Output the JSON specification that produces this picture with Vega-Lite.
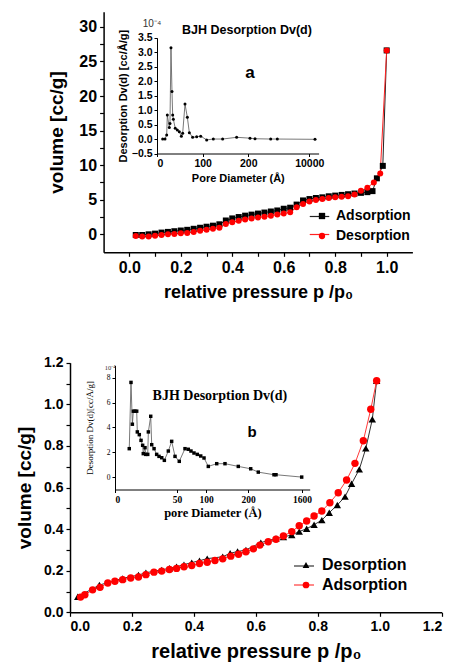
{
  "$schema": "https://vega.github.io/schema/vega-lite/v6.json",
  "width": 455,
  "height": 664,
  "autosize": "none",
  "padding": 0,
  "background": "white",
  "config": {
    "view": {"stroke": null},
    "axis": {"grid": false, "labelOverlap": false, "domainColor": "black", "tickColor": "black", "labelColor": "black", "titleColor": "black", "labelFont": "Liberation Sans", "titleFont": "Liberation Sans", "labelFontWeight": "bold", "titleFontWeight": "bold"},
    "legend": {"labelFont": "Liberation Sans", "labelFontWeight": "bold", "labelColor": "black"}
  },
  "datasets": {
    "isoA": [
      {"p":0.025,"v":-0.1,"s":"Adsorption"},{"p":0.05,"v":-0.1,"s":"Adsorption"},{"p":0.075,"v":0.0,"s":"Adsorption"},{"p":0.1,"v":0.1,"s":"Adsorption"},{"p":0.125,"v":0.25,"s":"Adsorption"},{"p":0.15,"v":0.35,"s":"Adsorption"},{"p":0.175,"v":0.45,"s":"Adsorption"},{"p":0.2,"v":0.55,"s":"Adsorption"},{"p":0.225,"v":0.65,"s":"Adsorption"},{"p":0.25,"v":0.8,"s":"Adsorption"},{"p":0.275,"v":0.95,"s":"Adsorption"},{"p":0.3,"v":1.1,"s":"Adsorption"},{"p":0.325,"v":1.25,"s":"Adsorption"},{"p":0.35,"v":1.45,"s":"Adsorption"},{"p":0.375,"v":2.0,"s":"Adsorption"},{"p":0.4,"v":2.3,"s":"Adsorption"},{"p":0.425,"v":2.5,"s":"Adsorption"},{"p":0.45,"v":2.7,"s":"Adsorption"},{"p":0.475,"v":2.85,"s":"Adsorption"},{"p":0.5,"v":3.0,"s":"Adsorption"},{"p":0.525,"v":3.15,"s":"Adsorption"},{"p":0.55,"v":3.3,"s":"Adsorption"},{"p":0.575,"v":3.45,"s":"Adsorption"},{"p":0.6,"v":3.7,"s":"Adsorption"},{"p":0.625,"v":3.85,"s":"Adsorption"},{"p":0.65,"v":4.3,"s":"Adsorption"},{"p":0.675,"v":4.9,"s":"Adsorption"},{"p":0.7,"v":5.1,"s":"Adsorption"},{"p":0.725,"v":5.25,"s":"Adsorption"},{"p":0.75,"v":5.35,"s":"Adsorption"},{"p":0.775,"v":5.5,"s":"Adsorption"},{"p":0.8,"v":5.6,"s":"Adsorption"},{"p":0.825,"v":5.7,"s":"Adsorption"},{"p":0.85,"v":5.8,"s":"Adsorption"},{"p":0.875,"v":5.9,"s":"Adsorption"},{"p":0.9,"v":6.0,"s":"Adsorption"},{"p":0.925,"v":6.1,"s":"Adsorption"},{"p":0.945,"v":6.25,"s":"Adsorption"},{"p":0.962,"v":8.1,"s":"Adsorption"},{"p":0.985,"v":9.9,"s":"Adsorption"},{"p":1.0,"v":26.6,"s":"Adsorption"},
      {"p":0.025,"v":-0.25,"s":"Desorption"},{"p":0.05,"v":-0.3,"s":"Desorption"},{"p":0.075,"v":-0.3,"s":"Desorption"},{"p":0.1,"v":-0.2,"s":"Desorption"},{"p":0.125,"v":-0.1,"s":"Desorption"},{"p":0.15,"v":0.0,"s":"Desorption"},{"p":0.175,"v":0.05,"s":"Desorption"},{"p":0.2,"v":0.15,"s":"Desorption"},{"p":0.225,"v":0.2,"s":"Desorption"},{"p":0.25,"v":0.35,"s":"Desorption"},{"p":0.275,"v":0.5,"s":"Desorption"},{"p":0.3,"v":0.65,"s":"Desorption"},{"p":0.325,"v":0.8,"s":"Desorption"},{"p":0.35,"v":0.95,"s":"Desorption"},{"p":0.375,"v":1.5,"s":"Desorption"},{"p":0.4,"v":1.75,"s":"Desorption"},{"p":0.425,"v":1.95,"s":"Desorption"},{"p":0.45,"v":2.15,"s":"Desorption"},{"p":0.475,"v":2.3,"s":"Desorption"},{"p":0.5,"v":2.45,"s":"Desorption"},{"p":0.525,"v":2.55,"s":"Desorption"},{"p":0.55,"v":2.7,"s":"Desorption"},{"p":0.575,"v":2.85,"s":"Desorption"},{"p":0.6,"v":3.0,"s":"Desorption"},{"p":0.625,"v":3.2,"s":"Desorption"},{"p":0.65,"v":3.9,"s":"Desorption"},{"p":0.675,"v":4.4,"s":"Desorption"},{"p":0.7,"v":4.75,"s":"Desorption"},{"p":0.725,"v":4.95,"s":"Desorption"},{"p":0.75,"v":5.1,"s":"Desorption"},{"p":0.775,"v":5.25,"s":"Desorption"},{"p":0.8,"v":5.35,"s":"Desorption"},{"p":0.825,"v":5.45,"s":"Desorption"},{"p":0.85,"v":5.5,"s":"Desorption"},{"p":0.875,"v":5.75,"s":"Desorption"},{"p":0.9,"v":6.3,"s":"Desorption"},{"p":0.925,"v":6.75,"s":"Desorption"},{"p":0.95,"v":7.5,"s":"Desorption"},{"p":0.975,"v":8.8,"s":"Desorption"},{"p":1.0,"v":26.6,"s":"Desorption"}
    ],
    "isoB": [
      {"p":0.025,"v":0.075,"s":"Desorption"},{"p":0.095,"v":0.131,"s":"Desorption"},{"p":0.17,"v":0.163,"s":"Desorption"},{"p":0.221,"v":0.179,"s":"Desorption"},{"p":0.245,"v":0.19,"s":"Desorption"},{"p":0.296,"v":0.204,"s":"Desorption"},{"p":0.321,"v":0.212,"s":"Desorption"},{"p":0.344,"v":0.219,"s":"Desorption"},{"p":0.368,"v":0.229,"s":"Desorption"},{"p":0.393,"v":0.239,"s":"Desorption"},{"p":0.418,"v":0.248,"s":"Desorption"},{"p":0.443,"v":0.258,"s":"Desorption"},{"p":0.493,"v":0.267,"s":"Desorption"},{"p":0.517,"v":0.284,"s":"Desorption"},{"p":0.541,"v":0.292,"s":"Desorption"},{"p":0.568,"v":0.3,"s":"Desorption"},{"p":0.616,"v":0.335,"s":"Desorption"},{"p":0.665,"v":0.355,"s":"Desorption"},{"p":0.689,"v":0.362,"s":"Desorption"},{"p":0.716,"v":0.372,"s":"Desorption"},{"p":0.74,"v":0.388,"s":"Desorption"},{"p":0.764,"v":0.402,"s":"Desorption"},{"p":0.788,"v":0.421,"s":"Desorption"},{"p":0.813,"v":0.443,"s":"Desorption"},{"p":0.837,"v":0.479,"s":"Desorption"},{"p":0.863,"v":0.516,"s":"Desorption"},{"p":0.888,"v":0.556,"s":"Desorption"},{"p":0.909,"v":0.618,"s":"Desorption"},{"p":0.934,"v":0.687,"s":"Desorption"},{"p":0.955,"v":0.788,"s":"Desorption"},{"p":0.976,"v":0.928,"s":"Desorption"},{"p":0.99,"v":1.113,"s":"Desorption"},
      {"p":0.034,"v":0.073,"s":"Adsorption"},{"p":0.048,"v":0.084,"s":"Adsorption"},{"p":0.073,"v":0.108,"s":"Adsorption"},{"p":0.097,"v":0.12,"s":"Adsorption"},{"p":0.122,"v":0.141,"s":"Adsorption"},{"p":0.145,"v":0.149,"s":"Adsorption"},{"p":0.17,"v":0.157,"s":"Adsorption"},{"p":0.196,"v":0.165,"s":"Adsorption"},{"p":0.221,"v":0.17,"s":"Adsorption"},{"p":0.245,"v":0.181,"s":"Adsorption"},{"p":0.271,"v":0.193,"s":"Adsorption"},{"p":0.296,"v":0.198,"s":"Adsorption"},{"p":0.321,"v":0.206,"s":"Adsorption"},{"p":0.344,"v":0.211,"s":"Adsorption"},{"p":0.368,"v":0.219,"s":"Adsorption"},{"p":0.393,"v":0.225,"s":"Adsorption"},{"p":0.418,"v":0.235,"s":"Adsorption"},{"p":0.443,"v":0.241,"s":"Adsorption"},{"p":0.468,"v":0.249,"s":"Adsorption"},{"p":0.493,"v":0.257,"s":"Adsorption"},{"p":0.519,"v":0.27,"s":"Adsorption"},{"p":0.544,"v":0.279,"s":"Adsorption"},{"p":0.568,"v":0.291,"s":"Adsorption"},{"p":0.592,"v":0.305,"s":"Adsorption"},{"p":0.613,"v":0.323,"s":"Adsorption"},{"p":0.64,"v":0.339,"s":"Adsorption"},{"p":0.665,"v":0.351,"s":"Adsorption"},{"p":0.689,"v":0.367,"s":"Adsorption"},{"p":0.716,"v":0.388,"s":"Adsorption"},{"p":0.74,"v":0.416,"s":"Adsorption"},{"p":0.764,"v":0.439,"s":"Adsorption"},{"p":0.788,"v":0.463,"s":"Adsorption"},{"p":0.813,"v":0.487,"s":"Adsorption"},{"p":0.839,"v":0.527,"s":"Adsorption"},{"p":0.866,"v":0.575,"s":"Adsorption"},{"p":0.893,"v":0.636,"s":"Adsorption"},{"p":0.92,"v":0.716,"s":"Adsorption"},{"p":0.947,"v":0.825,"s":"Adsorption"},{"p":0.971,"v":0.976,"s":"Adsorption"},{"p":0.99,"v":1.113,"s":"Adsorption"}
    ],
    "bjhA": [
      {"d":12.4,"dv":0.0},{"d":17.5,"dv":0.0},{"d":21.2,"dv":0.14},{"d":22.6,"dv":0.83},{"d":27,"dv":0.4},{"d":28.4,"dv":0.54},{"d":30.6,"dv":3.16},{"d":32.8,"dv":1.64},{"d":34.3,"dv":0.83},{"d":35.8,"dv":0.68},{"d":40,"dv":0.37},{"d":44.5,"dv":0.31},{"d":48.9,"dv":0.25},{"d":53.3,"dv":0.1},{"d":56.2,"dv":0.2},{"d":61.3,"dv":1.21},{"d":66.4,"dv":0.75},{"d":70.8,"dv":0.22},{"d":78,"dv":0.06},{"d":86.8,"dv":0.08},{"d":95.6,"dv":0.1},{"d":108.7,"dv":-0.03},{"d":123.3,"dv":0.0},{"d":143.7,"dv":0.0},{"d":174.4,"dv":0.06},{"d":473,"dv":0.03},{"d":1277,"dv":0.01},{"d":3801,"dv":0.0},{"d":4862,"dv":0.0},{"d":10922,"dv":-0.01}
    ],
    "bjhB": [
      {"d":11.5,"dv":2.29},{"d":12.9,"dv":7.63},{"d":14,"dv":4.26},{"d":14.8,"dv":5.31},{"d":16.1,"dv":5.31},{"d":17.5,"dv":5.31},{"d":18,"dv":3.64},{"d":19.6,"dv":3.42},{"d":21,"dv":2.96},{"d":22.3,"dv":2.56},{"d":22.8,"dv":1.89},{"d":24.2,"dv":2.37},{"d":24.8,"dv":1.83},{"d":26.4,"dv":1.83},{"d":26.9,"dv":3.64},{"d":28.8,"dv":4.9},{"d":29.6,"dv":2.61},{"d":31.5,"dv":2.29},{"d":33.6,"dv":1.83},{"d":35.5,"dv":1.67},{"d":37.7,"dv":1.56},{"d":39.8,"dv":1.35},{"d":43,"dv":2.1},{"d":45.7,"dv":2.88},{"d":48.4,"dv":1.67},{"d":53.9,"dv":1.27},{"d":63.8,"dv":2.29},{"d":69.5,"dv":2.24},{"d":74.1,"dv":2.1},{"d":79.3,"dv":1.94},{"d":85,"dv":1.83},{"d":90.9,"dv":1.7},{"d":96.6,"dv":1.54},{"d":105.5,"dv":0.86},{"d":125.5,"dv":1.08},{"d":145.2,"dv":1.08},{"d":176.9,"dv":0.86},{"d":270,"dv":0.67},{"d":467,"dv":0.4},{"d":874,"dv":0.19},{"d":926,"dv":0.19},{"d":1592,"dv":0.0}
    ],
    "notesA": [
      {"d":197,"dv":3.77,"t":"BJH Desorption Dv(d)","k":"title"},
      {"d":473,"dv":2.28,"t":"a","k":"tag"},
      {"d":-11,"dv":3.98,"t":"10⁻⁴","k":"exp"}
    ],
    "notesB": [
      {"d":133,"dv":6.53,"t":"BJH Desorption Dv(d)","k":"title"},
      {"d":304,"dv":3.62,"t":"b","k":"tag"},
      {"d":-4,"dv":8.79,"t":"10⁻⁴","k":"exp"}
    ]
  },
  "resolve": {
    "scale": {"x": "independent", "y": "independent", "color": "independent", "shape": "independent", "stroke": "independent"},
    "axis": {"x": "independent", "y": "independent"},
    "legend": {"color": "independent", "shape": "independent", "stroke": "independent"}
  },
  "layer": [
    {
      "data": {"name": "isoA"},
      "layer": [
        {
          "mark": {"type": "line", "strokeWidth": 1},
          "encoding": {
            "x": {"field": "p", "type": "quantitative", "title": "relative pressure p /p₀",
              "scale": {"domain": [-0.1, 1.1], "range": [103.6, 412.4], "nice": false, "zero": false},
              "axis": {"orient": "bottom", "offset": -411.7, "values": [0,0.1,0.2,0.3,0.4,0.5,0.6,0.7,0.8,0.9,1.0],
                "labelExpr": "round(datum.value*10) % 2 == 0 ? format(datum.value, '.1f') : ''",
                "labelFontSize": 16, "titleFontSize": 18, "tickSize": 4, "domainWidth": 1.5, "tickWidth": 1.2, "labelPadding": 3, "titlePadding": 8}},
            "y": {"field": "v", "type": "quantitative", "title": "volume [cc/g]",
              "scale": {"domain": [-2.6, 32.2], "range": [252.3, 11.7], "nice": false, "zero": false},
              "axis": {"orient": "left", "offset": -103.6, "values": [0,2.5,5,7.5,10,12.5,15,17.5,20,22.5,25,27.5,30],
                "labelExpr": "datum.value % 5 == 0 ? format(datum.value, 'd') : ''",
                "labelFontSize": 16, "titleFontSize": 19, "tickSize": 4, "domainWidth": 1.5, "tickWidth": 1.2, "labelPadding": 3, "titlePadding": 12}},
            "stroke": {"field": "s", "type": "nominal",
              "scale": {"domain": ["Desorption", "Adsorption"], "range": ["#ff2020", "#222222"]},
              "legend": {"orient": "none", "legendX": 309, "legendY": 206, "title": null, "values": ["Adsorption", "Desorption"], "symbolType": "stroke", "symbolSize": 380, "symbolStrokeWidth": 1.2, "labelFontSize": 14, "labelExpr": "''", "labelOpacity": 0, "rowPadding": 0, "labelOffset": 4, "padding": 0}}
          }
        },
        {
          "mark": {"type": "point", "filled": true, "opacity": 1, "size": 36},
          "encoding": {
            "x": {"field": "p", "type": "quantitative"},
            "y": {"field": "v", "type": "quantitative"},
            "color": {"field": "s", "type": "nominal",
              "scale": {"domain": ["Adsorption", "Desorption"], "range": ["black", "red"]},
              "legend": {"orient": "none", "legendX": 315, "legendY": 209, "title": null, "labelFontSize": 14, "symbolSize": 40, "rowPadding": 6, "labelOffset": 7, "padding": 0}},
            "shape": {"field": "s", "type": "nominal",
              "scale": {"domain": ["Adsorption", "Desorption"], "range": ["square", "circle"]}}
          }
        }
      ]
    },
    {
      "layer": [
        {
          "data": {"name": "bjhA"},
          "mark": {"type": "line", "color": "#555", "strokeWidth": 0.8},
          "encoding": {
            "x": {"field": "d", "type": "quantitative", "title": "Pore Diameter (Å)",
              "scale": {"type": "linear", "domain": [0, 100, 200, 11500], "range": [157, 202.7, 248.3, 318.6], "nice": false, "zero": false},
              "axis": {"orient": "bottom", "offset": -510.5, "values": [0, 100, 200, 10000], "format": "d",
                "labelFontSize": 10.5, "titleFontSize": 11, "tickSize": 3, "labelPadding": 2, "titlePadding": 3}},
            "y": {"field": "dv", "type": "quantitative", "title": "Desorption Dv(d) [cc/Å/g]",
              "scale": {"domain": [-0.5, 3.5], "range": [153.5, 37.8], "nice": false, "zero": false},
              "axis": {"orient": "left", "offset": -157, "values": [-0.5,0,0.5,1,1.5,2,2.5,3,3.5], "format": ".1f",
                "labelFontSize": 10.5, "titleFontSize": 11, "tickSize": 3, "labelPadding": 2, "titlePadding": 3}}
          }
        },
        {
          "data": {"name": "bjhA"},
          "mark": {"type": "point", "filled": true, "color": "black", "opacity": 1, "size": 9},
          "encoding": {
            "x": {"field": "d", "type": "quantitative"},
            "y": {"field": "dv", "type": "quantitative"}
          }
        },
        {
          "data": {"name": "notesA"},
          "transform": [{"filter": "datum.k == 'title'"}],
          "mark": {"type": "text", "font": "Liberation Sans", "fontWeight": "bold", "fontSize": 12.5, "align": "center", "baseline": "middle", "color": "black"},
          "encoding": {"x": {"field": "d", "type": "quantitative"}, "y": {"field": "dv", "type": "quantitative"}, "text": {"field": "t", "type": "nominal"}}
        },
        {
          "data": {"name": "notesA"},
          "transform": [{"filter": "datum.k == 'tag'"}],
          "mark": {"type": "text", "font": "Liberation Sans", "fontWeight": "bold", "fontSize": 17, "align": "center", "baseline": "middle", "color": "black"},
          "encoding": {"x": {"field": "d", "type": "quantitative"}, "y": {"field": "dv", "type": "quantitative"}, "text": {"field": "t", "type": "nominal"}}
        },
        {
          "data": {"name": "notesA"},
          "transform": [{"filter": "datum.k == 'exp'"}],
          "mark": {"type": "text", "font": "Liberation Sans", "fontSize": 10, "align": "center", "baseline": "middle", "color": "#333"},
          "encoding": {"x": {"field": "d", "type": "quantitative"}, "y": {"field": "dv", "type": "quantitative"}, "text": {"field": "t", "type": "nominal"}}
        }
      ]
    },
    {
      "data": {"name": "isoB"},
      "layer": [
        {
          "mark": {"type": "line", "strokeWidth": 1},
          "encoding": {
            "x": {"field": "p", "type": "quantitative", "title": "relative pressure p /p₀",
              "scale": {"domain": [0, 1.2], "range": [70, 441.7], "nice": false, "zero": false},
              "axis": {"orient": "bottom", "offset": -51.7, "values": [0,0.1,0.2,0.3,0.4,0.5,0.6,0.7,0.8,0.9,1.0,1.1,1.2],
                "labelExpr": "abs(round(datum.value*10)) % 2 == 0 ? format(datum.value, '.1f') : ''",
                "labelFontSize": 14, "titleFontSize": 20, "tickSize": 4, "domainWidth": 1.5, "tickWidth": 1.2, "labelPadding": 3, "titlePadding": 8}},
            "y": {"field": "v", "type": "quantitative", "title": "volume [cc/g]",
              "scale": {"domain": [0, 1.2], "range": [612.3, 362.7], "nice": false, "zero": false},
              "axis": {"orient": "left", "offset": -70, "values": [0,0.1,0.2,0.3,0.4,0.5,0.6,0.7,0.8,0.9,1.0,1.1,1.2],
                "labelExpr": "abs(round(datum.value*10)) % 2 == 0 ? format(datum.value, '.1f') : ''",
                "labelFontSize": 14, "titleFontSize": 19, "tickSize": 4, "domainWidth": 1.5, "tickWidth": 1.2, "labelPadding": 3, "titlePadding": 9}},
            "stroke": {"field": "s", "type": "nominal",
              "scale": {"domain": ["Adsorption", "Desorption"], "range": ["#ff3a3a", "#333333"]},
              "legend": {"orient": "none", "legendX": 293, "legendY": 555, "title": null, "values": ["Desorption", "Adsorption"], "symbolType": "stroke", "symbolSize": 400, "symbolStrokeWidth": 1.2, "labelFontSize": 16, "labelExpr": "''", "labelOpacity": 0, "rowPadding": 0, "labelOffset": 4, "padding": 0}}
          }
        },
        {
          "mark": {"type": "point", "filled": true, "opacity": 1, "size": 55},
          "encoding": {
            "x": {"field": "p", "type": "quantitative"},
            "y": {"field": "v", "type": "quantitative"},
            "color": {"field": "s", "type": "nominal",
              "scale": {"domain": ["Desorption", "Adsorption"], "range": ["black", "red"]},
              "legend": {"orient": "none", "legendX": 298, "legendY": 557, "title": null, "labelFontSize": 16, "symbolSize": 45, "rowPadding": 4, "labelOffset": 8, "padding": 0}},
            "shape": {"field": "s", "type": "nominal",
              "scale": {"domain": ["Desorption", "Adsorption"], "range": ["triangle-up", "circle"]}}
          }
        }
      ]
    },
    {
      "layer": [
        {
          "data": {"name": "bjhB"},
          "mark": {"type": "line", "color": "#555", "strokeWidth": 0.8},
          "encoding": {
            "x": {"field": "d", "type": "quantitative", "title": "pore Diameter (Å)",
              "scale": {"type": "linear", "domain": [0, 50, 100, 200, 1600, 1800], "range": [115, 177, 206, 248, 302, 309.7], "nice": false, "zero": false},
              "axis": {"orient": "bottom", "offset": -174.5, "values": [0, 50, 100, 200, 1600], "format": "d",
                "labelFont": "Liberation Serif", "titleFont": "Liberation Serif", "labelFontSize": 9.5, "titleFontSize": 12.5, "tickSize": 3, "labelPadding": 2, "titlePadding": 2}},
            "y": {"field": "dv", "type": "quantitative", "title": "Desorption Dv(d)[cc/Å/g]",
              "scale": {"domain": [-1, 9], "range": [489.5, 365.4], "nice": false, "zero": false},
              "axis": {"orient": "left", "offset": -115, "values": [0, 2, 4, 6, 8], "format": "d",
                "labelFont": "Liberation Serif", "titleFont": "Liberation Serif", "labelFontWeight": "normal", "titleFontWeight": "normal", "labelFontSize": 7.5, "titleFontSize": 9, "tickSize": 3, "labelPadding": 2, "titlePadding": 12}}
          }
        },
        {
          "data": {"name": "bjhB"},
          "mark": {"type": "square", "filled": true, "color": "black", "opacity": 1, "size": 12},
          "encoding": {
            "x": {"field": "d", "type": "quantitative"},
            "y": {"field": "dv", "type": "quantitative"}
          }
        },
        {
          "data": {"name": "notesB"},
          "transform": [{"filter": "datum.k == 'title'"}],
          "mark": {"type": "text", "font": "Liberation Serif", "fontWeight": "bold", "fontSize": 14, "align": "center", "baseline": "middle", "color": "black"},
          "encoding": {"x": {"field": "d", "type": "quantitative"}, "y": {"field": "dv", "type": "quantitative"}, "text": {"field": "t", "type": "nominal"}}
        },
        {
          "data": {"name": "notesB"},
          "transform": [{"filter": "datum.k == 'tag'"}],
          "mark": {"type": "text", "font": "Liberation Sans", "fontWeight": "bold", "fontSize": 15, "align": "center", "baseline": "middle", "color": "black"},
          "encoding": {"x": {"field": "d", "type": "quantitative"}, "y": {"field": "dv", "type": "quantitative"}, "text": {"field": "t", "type": "nominal"}}
        },
        {
          "data": {"name": "notesB"},
          "transform": [{"filter": "datum.k == 'exp'"}],
          "mark": {"type": "text", "font": "Liberation Serif", "fontSize": 6.5, "align": "center", "baseline": "middle", "color": "#333"},
          "encoding": {"x": {"field": "d", "type": "quantitative"}, "y": {"field": "dv", "type": "quantitative"}, "text": {"field": "t", "type": "nominal"}}
        }
      ]
    }
  ]
}
